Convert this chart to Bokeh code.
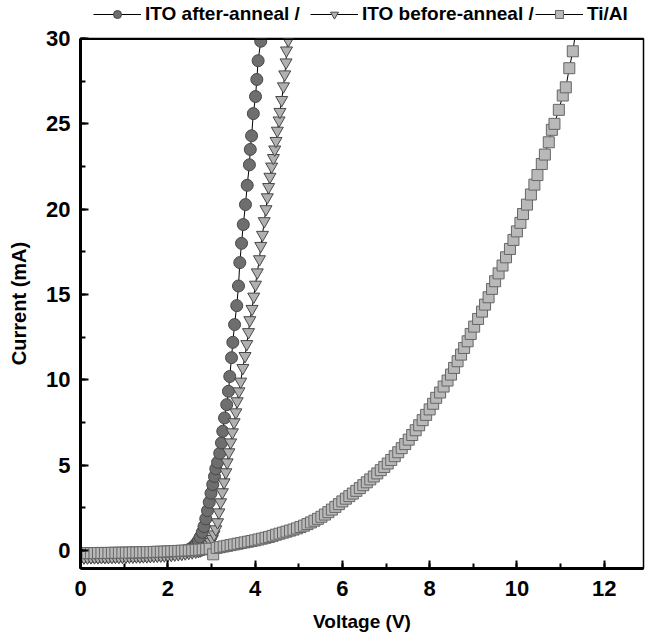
from bokeh.plotting import figure
from bokeh.layouts import column
from bokeh.models import Legend, LegendItem, SingleIntervalTicker, Range1d, Span
from bokeh.embed import file_html
from bokeh.resources import INLINE

# ---- data ----
after_v = [0.00, 0.08, 0.16, 0.24, 0.32, 0.40, 0.48, 0.56, 0.64, 0.72, 0.80, 0.88, 0.96, 1.04,
           1.12, 1.20, 1.28, 1.36, 1.44, 1.52, 1.60, 1.68, 1.76, 1.84, 1.92, 2.00, 2.08, 2.16,
           2.24, 2.32, 2.40, 2.48, 2.54, 2.58, 2.62, 2.66, 2.70, 2.74, 2.79, 2.83, 2.87, 2.91,
           2.95, 2.99, 3.03, 3.07, 3.10, 3.14, 3.19, 3.23, 3.26, 3.30, 3.35, 3.39, 3.42, 3.46,
           3.49, 3.53, 3.58, 3.62, 3.65, 3.69, 3.73, 3.78, 3.82, 3.87, 3.89, 3.92, 3.96, 4.01,
           4.04, 4.07, 4.13, 4.17]
after_i = [-0.35, -0.35, -0.35, -0.34, -0.34, -0.34, -0.33, -0.33, -0.33, -0.32, -0.32, -0.32, -0.31, -0.31,
           -0.30, -0.30, -0.29, -0.29, -0.28, -0.27, -0.26, -0.25, -0.24, -0.22, -0.20, -0.18, -0.16, -0.13,
           -0.10, -0.06, -0.02, 0.05, 0.13, 0.21, 0.31, 0.43, 0.58, 0.78, 1.07, 1.41, 1.86, 2.34,
           2.83, 3.36, 3.87, 4.34, 4.79, 5.17, 5.70, 6.31, 6.99, 7.77, 8.55, 9.33, 10.2, 11.3,
           12.2, 13.24, 14.35, 15.5, 16.87, 18.0, 19.1, 20.27, 21.4, 22.6, 23.5, 24.3, 25.6, 26.6,
           27.6, 28.7, 29.84, 31.0]

before_v = [0.00, 0.08, 0.16, 0.24, 0.32, 0.40, 0.48, 0.56, 0.64, 0.72, 0.80, 0.88, 0.96, 1.04,
            1.12, 1.20, 1.28, 1.36, 1.44, 1.52, 1.60, 1.68, 1.76, 1.84, 1.92, 2.00, 2.08, 2.16,
            2.24, 2.32, 2.40, 2.48, 2.56, 2.64, 2.70, 2.74, 2.78, 2.82, 2.86, 2.90, 2.94, 2.98,
            3.02, 3.06, 3.10, 3.14, 3.17, 3.21, 3.25, 3.29, 3.33, 3.36, 3.40, 3.44, 3.48, 3.52,
            3.56, 3.59, 3.63, 3.67, 3.72, 3.77, 3.81, 3.85, 3.88, 3.93, 3.97, 4.01, 4.05, 4.10,
            4.13, 4.17, 4.21, 4.25, 4.28, 4.31, 4.34, 4.38, 4.42, 4.45, 4.48, 4.51, 4.55, 4.57,
            4.61, 4.65, 4.68, 4.71, 4.72, 4.76, 4.79]
before_i = [-0.40, -0.40, -0.40, -0.39, -0.39, -0.39, -0.38, -0.38, -0.38, -0.37, -0.37, -0.37, -0.36, -0.36,
            -0.35, -0.35, -0.34, -0.34, -0.33, -0.33, -0.32, -0.31, -0.30, -0.29, -0.28, -0.27, -0.25, -0.23,
            -0.21, -0.19, -0.16, -0.13, -0.10, -0.06, -0.02, 0.01, 0.05, 0.10, 0.16, 0.25, 0.36, 0.50,
            0.68, 0.95, 1.25, 1.66, 2.24, 2.83, 3.42, 4.00, 4.59, 5.17, 5.76, 6.34, 6.93, 7.52,
            8.10, 8.75, 9.33, 9.90, 10.7, 11.4, 12.1, 12.8, 13.5, 14.16, 14.88, 15.58, 16.3, 17.07,
            17.85, 18.5, 19.3, 20.0, 20.7, 21.3, 21.9, 22.5, 23.0, 23.5, 24.0, 24.6, 25.2, 25.7,
            26.4, 27.2, 27.9, 28.6, 29.3, 29.9, 30.6]

tial_v = [0.00, 0.08, 0.16, 0.24, 0.32, 0.40, 0.48, 0.56, 0.64, 0.72, 0.80, 0.88, 0.96, 1.04,
          1.12, 1.20, 1.28, 1.36, 1.44, 1.52, 1.60, 1.68, 1.76, 1.84, 1.92, 2.00, 2.08, 2.16,
          2.24, 2.32, 2.40, 2.48, 2.56, 2.64, 2.72, 2.80, 2.88, 2.96, 3.04, 3.12, 3.20, 3.28,
          3.36, 3.44, 3.52, 3.60, 3.68, 3.76, 3.84, 3.92, 4.00, 4.08, 4.16, 4.24, 4.32, 4.40,
          4.48, 4.56, 4.64, 4.72, 4.80, 4.88, 4.96, 5.04, 5.12, 5.20, 5.28, 5.36, 5.44, 5.52,
          5.60, 5.68, 5.76, 5.84, 5.92, 6.00, 6.08, 6.16, 6.24, 6.32, 6.40, 6.48, 6.56, 6.64,
          6.72, 6.80, 6.88, 6.96, 7.04, 7.12, 7.20, 7.28, 7.36, 7.44, 7.52, 7.60, 7.68, 7.76,
          7.84, 7.92, 8.00, 8.08, 8.15, 8.24, 8.32, 8.41, 8.49, 8.56, 8.64, 8.72, 8.79, 8.87,
          8.94, 9.02, 9.11, 9.20, 9.27, 9.35, 9.43, 9.50, 9.58, 9.67, 9.75, 9.84, 9.92, 10.00,
          10.08, 10.14, 10.23, 10.32, 10.40, 10.47, 10.57, 10.64, 10.73, 10.80, 10.86, 10.96, 11.05, 11.12,
          11.20, 11.28, 11.36]
tial_i = [-0.15, -0.15, -0.15, -0.15, -0.15, -0.14, -0.14, -0.14, -0.14, -0.13, -0.13, -0.13, -0.12, -0.12,
          -0.12, -0.11, -0.11, -0.10, -0.10, -0.09, -0.09, -0.08, -0.07, -0.07, -0.06, -0.05, -0.04, -0.03,
          -0.02, -0.01, 0.00, 0.01, 0.02, 0.04, 0.05, 0.07, 0.09, 0.11, -0.22, 0.16, 0.20, 0.24,
          0.28, 0.32, 0.36, 0.40, 0.44, 0.48, 0.52, 0.56, 0.60, 0.65, 0.70, 0.75, 0.80, 0.86,
          0.93, 0.99, 1.05, 1.11, 1.17, 1.23, 1.30, 1.38, 1.46, 1.55, 1.65, 1.75, 1.86, 1.98,
          2.11, 2.25, 2.40, 2.56, 2.72, 2.88, 3.04, 3.19, 3.34, 3.50, 3.66, 3.83, 4.00, 4.17,
          4.34, 4.52, 4.71, 4.90, 5.10, 5.31, 5.53, 5.76, 6.00, 6.24, 6.50, 6.77, 7.05, 7.34,
          7.64, 7.95, 8.27, 8.60, 8.95, 9.26, 9.61, 9.96, 10.31, 10.70, 11.09, 11.48, 11.87, 12.26,
          12.69, 13.12, 13.57, 14.00, 14.41, 14.84, 15.33, 15.78, 16.24, 16.70, 17.18, 17.67, 18.20, 18.70,
          19.20, 19.72, 20.27, 20.86, 21.44, 22.00, 22.65, 23.20, 23.92, 24.65, 25.00, 25.82, 26.66, 27.14,
          28.26, 29.25, 30.6]

x_ticks_interval = 2
y_ticks_interval = 5
labels = ["ITO after-anneal /", "ITO before-anneal /", "Ti/Al"]

FONT = "Liberation Sans"

STYLES = [
    dict(marker="circle", size=12, fill_color="#6e6e6e", line_color="#474747", line_width=1),
    dict(marker="inverted_triangle", size=12, fill_color="#b0b0b0", line_color="#474747", line_width=1),
    dict(marker="square", size=11, fill_color="#b9b9b9", line_color="#666666", line_width=1),
]

# ---------------- main plot ----------------
p = figure(width=646, height=617, x_range=Range1d(0, 12.9), y_range=Range1d(-1.05, 30),
           output_backend="svg", toolbar_location=None,
           min_border_left=80, min_border_right=3, min_border_top=14, min_border_bottom=73)

p.xgrid.visible = False
p.ygrid.visible = False
p.outline_line_color = "black"
p.outline_line_width = 1.5
p.background_fill_color = "white"
p.border_fill_color = "white"

for ax in (p.xaxis[0], p.yaxis[0]):
    ax.axis_line_width = 3
    ax.axis_line_color = "black"
    ax.major_tick_in = 8
    ax.major_tick_out = 0
    ax.minor_tick_in = 5
    ax.minor_tick_out = 0
    ax.major_tick_line_width = 2
    ax.minor_tick_line_width = 2
    ax.major_label_text_font = FONT
    ax.major_label_text_font_style = "bold"
    ax.major_label_text_font_size = "22px"
    ax.major_label_text_color = "black"
    ax.axis_label_text_font = FONT
    ax.axis_label_text_font_style = "bold"
    ax.axis_label_text_color = "black"
    ax.axis_label_text_font_size = "19px"

p.xaxis[0].ticker = SingleIntervalTicker(interval=x_ticks_interval, num_minor_ticks=2)
p.yaxis[0].ticker = SingleIntervalTicker(interval=y_ticks_interval, num_minor_ticks=2)
p.xaxis[0].axis_label = "Voltage (V)"
p.yaxis[0].axis_label = "Current (mA)"
p.yaxis[0].axis_label_text_font_size = "20px"
p.xaxis[0].major_label_standoff = 12
p.yaxis[0].major_label_standoff = 10
p.xaxis[0].axis_label_standoff = 12
p.yaxis[0].axis_label_standoff = 13

p.line(after_v, after_i, line_color="black", line_width=1)
p.scatter(after_v, after_i, **STYLES[0])
p.line(before_v, before_i, line_color="black", line_width=1)
p.scatter(before_v, before_i, **STYLES[1])
p.line(tial_v, tial_i, line_color="black", line_width=1)
p.scatter(tial_v, tial_i, **STYLES[2])

p.add_layout(Span(location=30, dimension="width", line_color="black", line_width=3))

# ---------------- legend strip above ----------------
lg = figure(width=646, height=24, x_range=Range1d(0, 1), y_range=Range1d(0, 1),
            output_backend="svg", toolbar_location=None, x_axis_type=None, y_axis_type=None,
            min_border=0, min_border_left=0, min_border_right=0, min_border_top=0, min_border_bottom=0)
lg.outline_line_color = None
lg.xgrid.visible = False
lg.ygrid.visible = False
legend_x = [13, 230, 455]
for lab, st, lx in zip(labels, STYLES, legend_x):
    # one sample point placed outside the strip's visible range, only to feed the legend glyph
    ln = lg.line([-5, -4], [-5, -5], line_color="black", line_width=1)
    sc = lg.scatter([-5], [-5], **st)
    leg = Legend(items=[LegendItem(label=lab, renderers=[ln, sc])], location=(lx, -1),
                 glyph_width=48, glyph_height=20, label_standoff=4,
                 padding=0, margin=0, border_line_color=None, background_fill_alpha=0,
                 label_text_font=FONT, label_text_font_style="bold", label_text_font_size="19px",
                 label_text_color="black")
    lg.add_layout(leg, "center")

layout = column(lg, p, spacing=0)
open("out.html", "w").write(file_html(layout, INLINE))
